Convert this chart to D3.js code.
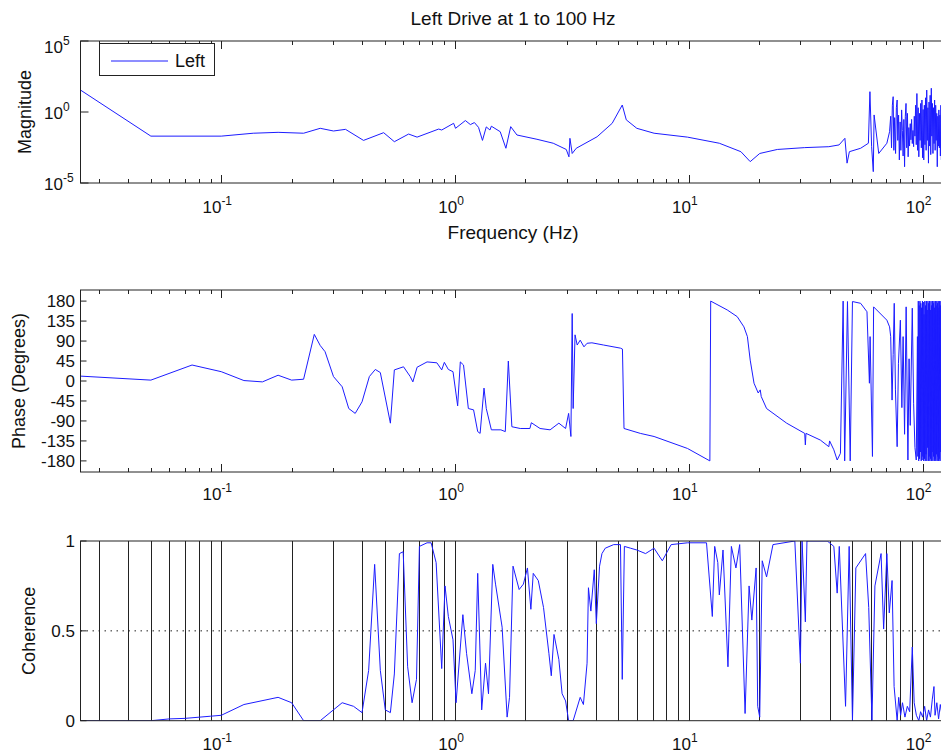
<!DOCTYPE html>
<html>
<head>
<meta charset="utf-8">
<script src="https://cdn.jsdelivr.net/npm/d3@7"></script>
<style>
  body { margin: 0; background: #fff; }
  text { font-family: "Liberation Sans", Arial, Helvetica, sans-serif; fill: #111; }
</style>
</head>
<body>
<svg id="chart"></svg>
<script>
// values
const magFreq = [0.025, 0.05, 0.1, 0.137, 0.175, 0.225, 0.265, 0.302, 0.34, 0.406, 0.495, 0.55, 0.633, 0.688,
  0.851, 0.877, 0.986, 1.005, 1.107, 1.163, 1.21, 1.26, 1.31, 1.36, 1.41, 1.43, 1.56, 1.65, 1.73, 1.84, 2.24,
  2.63, 2.99, 3.07, 3.1, 3.17, 3.3, 4.05, 4.7, 5.19, 5.4, 5.99, 7.1, 9.87, 13.5, 16.7, 18.3, 20.1, 23.9, 31.3,
  39.7, 43.9, 46.5, 47.5, 48.6, 54.3, 58.6, 59.5, 60.5, 61.5, 62.0, 64.9, 70.3, 72.2,
  73.0, 73.6, 74.2, 74.8, 75.3, 75.9, 76.6, 77.2, 77.8, 78.3, 78.9, 79.5, 80.1, 80.7, 81.3, 81.9, 82.5, 83.1,
  83.7, 84.3, 84.9, 85.5, 86.1, 86.7, 87.3, 87.9, 88.5, 89.1, 89.7, 90.3, 90.9, 91.5, 92.1, 92.7, 93.3, 93.9,
  94.5, 95.1, 95.7, 96.3, 96.9, 97.5, 98.1, 98.7, 99.3, 99.9, 100.5, 101.1, 101.7, 102.3, 102.9, 103.5, 104.1,
  104.7, 105.3, 105.9, 106.5, 107.1, 107.7, 108.3, 108.9, 109.5, 110.1, 110.7, 111.3, 111.9, 112.5, 113.1,
  113.7, 114.3, 114.9, 115.5, 116.1, 116.7, 117.3, 117.9, 118.5, 119.1, 119.7, 120.3, 120.9, 121.5, 122.1,
  122.7, 123.3, 123.9, 124.5];
const magVal = [35, 0.020, 0.020, 0.032, 0.037, 0.032, 0.071, 0.046, 0.060, 0.010, 0.035, 0.0081, 0.028, 0.017,
  0.063, 0.054, 0.16, 0.071, 0.25, 0.13, 0.18, 0.083, 0.010, 0.089, 0.054, 0.10, 0.041, 0.0028, 0.093, 0.024, 0.012,
  0.0063, 0.0023, 0.0007, 0.014, 0.0012, 0.0028, 0.018, 0.16, 3.1, 0.28, 0.071, 0.032, 0.017, 0.0063, 0.0016, 0.00032, 0.0012, 0.0023, 0.0031,
  0.0036, 0.0048, 0.014, 0.00025, 0.0016, 0.0028, 0.0063, 27, 0.0036, 0.000063, 0.62, 0.0012, 0.0063, 0.041,
  0.5, 0.003, 3, 12, 0.002, 0.4, 0.0012, 2, 7, 0.01, 0.6, 0.00042, 0.2, 0.002, 1.4, 0.05, 0.0008, 0.3,
  0.00014, 0.5, 4, 0.003, 0.8, 0.0007, 0.08, 0.004, 0.15, 0.011, 0.3, 0.006, 0.05, 0.0036, 0.5, 0.02, 3, 0.005,
  20, 0.002, 2, 0.0007, 0.8, 0.01, 4, 0.003, 7, 0.0006, 1.5, 0.00042, 3, 0.005, 10, 0.002, 35,
  0.01, 2, 0.00025, 5, 0.004, 15, 0.001, 47, 0.02, 4, 0.0012, 2, 0.006, 7, 0.002,
  3, 0.01, 0.8, 0.00014, 0.5, 0.004, 1.4, 0.003, 0.6, 0.0008, 3, 0.00042, 5, 0.002, 2,
  0.001, 4, 0.003, 1];

const phaseFreq = [0.025, 0.05, 0.075, 0.1, 0.125, 0.15, 0.175, 0.2, 0.225, 0.25, 0.265, 0.278, 0.302, 0.329,
  0.351, 0.374, 0.4, 0.43, 0.456, 0.479, 0.529, 0.55, 0.602, 0.643, 0.66, 0.688, 0.759, 0.836, 0.877, 0.9, 0.936,
  0.98, 1.026, 1.053, 1.087, 1.14, 1.2, 1.25, 1.28, 1.33, 1.36, 1.43, 1.57, 1.64, 1.69, 1.75, 1.9, 2.09, 2.12,
  2.31, 2.55, 2.78, 2.97, 3.06, 3.13, 3.17, 3.2, 3.26, 3.33, 3.43, 3.56, 3.67, 3.85, 4.32, 5.1, 5.2, 5.28, 6.2,
  7.1, 9.87, 12.3, 12.4, 14.6, 16.1, 17.2, 17.8, 18.3, 19.0, 19.8, 20.2, 20.4, 21.5, 26.2, 31.3, 31.5, 31.7,
  36.5, 39.7, 40, 41.7, 43.1, 44.5, 45.7, 46.4, 47.7, 49, 50.1, 54.3, 57.8, 59.2, 59.6, 61, 61.7, 70.3, 72.2,
  73, 74, 74.8, 75.6, 76.5, 77.8, 78.8, 80.3, 81.5, 82.5, 83.7, 85, 86.5, 87.5, 88.5, 90.3, 91.5, 92.7, 93.9,
  95, 95.4, 95.8, 96.2, 96.6, 97, 97.4, 97.8, 98.2, 98.6, 99, 99.4, 99.8, 100.2, 100.6, 101, 101.4, 101.8,
  102.2, 102.6, 103, 103.4, 103.8, 104.2, 104.6, 105, 105.4, 105.8, 106.2, 106.6, 107, 107.4, 107.8, 108.2,
  108.6, 109, 109.4, 109.8, 110.2, 110.6, 111, 111.4, 111.8, 112.2, 112.6, 113, 113.4, 113.8, 114.2, 114.6,
  115, 115.4, 115.8, 116.2, 116.6, 117, 117.4, 117.8, 118.2, 118.6, 119, 119.4, 119.8, 120.2, 120.6, 121,
  121.4, 121.8, 122.2, 122.6, 123, 123.4, 123.8, 124.2, 124.6];
const phaseVal = [11, 2, 36, 21, 1, -2, 13, 2, 4, 105, 80, 66, 10, -13,
  -62, -73, -47, 10, 26, 19, -95, 25, 32, 10, -2, 31, 43, 41, 25, 42, 26,
  21, -56, 43, 36, -62, -65, -114, -118, -16, -62, -110, -110, -114, 45, -103, -107, -107, -94,
  -107, -110, -95, -107, -73, -125, 152, -62, 104, 81, 92, 77, 85, 86, 81, 74, 72, -107, -118,
  -125, -152, -180, 180, 160, 145, 122, 100, 47, -5, -27, -20, -35, -62, -95, -118, -144, -118,
  -133, -148, -135, -155, -178, -163, 180, -180, 179, -180, 179, 175, 156, -5, 100, -170, 167, 137, 122,
  100, -43, 60, 175, -20, -148, 40, 137, -60, 100, -120, 167, -178, 50, -100, 164, -50, -150, -178,
  100, -170, 180, -180, 170, -175, 180, -160, 175, -180, 165, -178, 180, -170, 178, -180, 150, -175,
  180, -180, 170, -165, 180, -180, 160, -150, 180, -180, 175, -170, 180, -180, 160, -175,
  180, -180, 170, -160, 180, -180, 175, -170, 180, -180, 165, -175, 180, -180, 170, -165,
  180, -180, 175, -170, 180, -180, 165, -175, 180, -180, 170, -160, 180, -180, 175, -170,
  180, -180, 170, -175, 180, -180, 170, -175, 180];

const cohFreq = [0.025, 0.05, 0.06, 0.07, 0.09, 0.1, 0.125, 0.175, 0.2, 0.225, 0.265, 0.329, 0.368, 0.40, 0.427,
  0.453, 0.479, 0.503, 0.529, 0.55, 0.578, 0.6, 0.627, 0.655, 0.684, 0.704, 0.759, 0.79, 0.83, 0.877, 0.906,
  0.936, 0.98, 1.01, 1.08, 1.12, 1.18, 1.22, 1.25, 1.30, 1.35, 1.39, 1.45, 1.49, 1.59, 1.67, 1.71, 1.77, 1.88,
  1.96, 2.04, 2.11, 2.16, 2.27, 2.39, 2.52, 2.58, 2.65, 2.78, 2.87, 2.97, 3.06, 3.2, 3.43, 3.54, 3.67, 3.72,
  3.81, 3.94, 4.02, 4.15, 4.25, 4.39, 4.77, 5.1, 5.19, 5.3, 5.63, 5.99, 6.53, 7.1, 7.7, 8.4, 9.87, 11.9, 12.6,
  12.9, 13.3, 13.5, 14.0, 14.7, 15.2, 15.9, 16.5, 17.4, 18.1, 18.6, 19.4, 19.7, 20.1, 20.6, 21.5, 22.9, 28.4,
  30, 30.5, 31.5, 32, 39.1, 41.7, 43.1, 44, 46.8, 48.5, 50.1, 51.8, 55, 57, 58.8, 60.7, 62.5, 66.4, 68.1, 70.3,
  72, 74, 75.5, 77.8, 79, 80.5, 82, 84, 86, 88, 90.3, 92, 94, 96.3, 98, 100, 102, 104, 106, 108, 110, 111.8,
  113, 115, 117, 119, 121, 123];
const cohVal = [0, 0, 0.01, 0.013, 0.025, 0.03, 0.09, 0.13, 0.10, 0, 0, 0.10, 0.08, 0.045, 0.28,
  0.87, 0.28, 0.06, 0.045, 0.26, 0.93, 0.94, 0.30, 0.10, 0.23, 0.97, 0.99, 0.99, 0.88, 0.29, 0.75,
  0.58, 0.45, 0.10, 0.59, 0.375, 0.15, 0.28, 0.82, 0.06, 0.32, 0.15, 0.87, 0.76, 0.52, 0.02, 0.13, 0.86, 0.73,
  0.76, 0.85, 0.62, 0.82, 0.78, 0.63, 0.375, 0.25, 0.48, 0.34, 0.15, 0.11, 0, 0, 0.13, 0.09, 0.32, 0.74,
  0.61, 0.84, 0.54, 0.86, 0.93, 0.96, 0.98, 0.98, 0.23, 0.97, 0.96, 0.95, 0.93, 0.96, 0.89, 0.98, 0.99, 0.99, 0.58,
  0.97, 0.88, 0.70, 0.95, 0.30, 0.97, 0.85, 0.98, 0.04, 0.75, 0.56, 0.85, 0.08, 0.02, 0.89, 0.80, 0.98, 1.0,
  0.32, 1.0, 0.55, 1.0, 1.0, 0.97, 0.71, 0.97, 0.08, 0.97, 0, 0.85, 0.9, 0.93, 0.63, 0, 0.75, 0.93, 0.51, 0.93,
  0.6, 0.78, 0.19, 0, 0.13, 0.03, 0.1, 0.02, 0.08, 0.05, 0.41, 0.1, 0.03, 0, 0.05, 0.02, 0.08, 0, 0.06, 0.02, 0.12, 0.19,
  0.03, 0.1, 0.01, 0.09, 0.03, 0.08];

const decadeTicks = [0.1, 1, 10, 100];
const decadeExp = ['-1', '0', '1', '2'];
const magTicks = [1e5, 1, 1e-5];
const magExp = ['5', '0', '-5'];
const phaseTicks = [180, 135, 90, 45, 0, -45, -90, -135, -180];
const cohTicks = [1, 0.5, 0];
const cohLabels = ['1', '0.5', '0'];

const width = 941, height = 755;
const svg = d3.select('#chart').attr('width', width).attr('height', height);

const x = d3.scaleLog().domain([0.025, 125]).range([80.5, 945.3]);
const minorTicks = x.ticks();

const panels = {
  mag: { top: 41, bottom: 183 },
  phase: { top: 290, bottom: 472 },
  coh: { top: 541, bottom: 720.7 }
};

const yMag = d3.scaleLog().domain([1e-5, 1e5]).range([panels.mag.bottom, panels.mag.top]);
const yPhase = d3.scaleLinear().domain([-205, 205]).range([panels.phase.bottom, panels.phase.top]);
const yCoh = d3.scaleLinear().domain([0, 1]).range([panels.coh.bottom, panels.coh.top]);

const axisColor = '#222';
const lineColor = '#1c1cff';

function clipFor(id, p) {
  svg.append('clipPath').attr('id', id)
    .append('rect')
    .attr('x', x.range()[0]).attr('y', p.top)
    .attr('width', x.range()[1] - x.range()[0]).attr('height', p.bottom - p.top);
}

function frame(p) {
  svg.append('rect')
    .attr('x', x.range()[0]).attr('y', p.top)
    .attr('width', x.range()[1] - x.range()[0]).attr('height', p.bottom - p.top)
    .attr('fill', 'none').attr('stroke', axisColor).attr('stroke-width', 1);
}

function xTickMarks(p) {
  const g = svg.append('g').attr('stroke', axisColor).attr('stroke-width', 1);
  minorTicks.forEach(t => {
    const len = decadeTicks.includes(t) ? 8 : 4;
    const xx = Math.round(x(t)) + 0.5;
    g.append('line').attr('x1', xx).attr('x2', xx).attr('y1', p.top).attr('y2', p.top + len);
    g.append('line').attr('x1', xx).attr('x2', xx).attr('y1', p.bottom).attr('y2', p.bottom - len);
  });
}

function xTickLabels(p, offset) {
  decadeTicks.forEach((t, i) => {
    const txt = svg.append('text')
      .attr('x', x(t) - 4).attr('y', p.bottom + offset)
      .attr('text-anchor', 'middle').attr('font-size', 17);
    txt.append('tspan').text('10');
    txt.append('tspan').attr('dy', -8).attr('font-size', 12).text(decadeExp[i]);
  });
}

function drawLine(clipId, freq, vals, y) {
  const pts = d3.zip(freq, vals);
  svg.append('path')
    .datum(pts)
    .attr('clip-path', `url(#${clipId})`)
    .attr('fill', 'none')
    .attr('stroke', lineColor)
    .attr('stroke-width', 1)
    .attr('stroke-linejoin', 'round')
    .attr('d', d3.line().x(d => x(d[0])).y(d => y(d[1])));
}

// title
svg.append('text')
  .attr('x', 513).attr('y', 25)
  .attr('text-anchor', 'middle').attr('font-size', 19)
  .text('Left Drive at 1 to 100 Hz');

// ---- magnitude ----
clipFor('clipMag', panels.mag);
drawLine('clipMag', magFreq, magVal, yMag);
frame(panels.mag);
xTickMarks(panels.mag);
xTickLabels(panels.mag, 30);
magTicks.forEach((t, i) => {
  const yy = yMag(t);
  svg.append('line').attr('x1', x.range()[0]).attr('x2', x.range()[0] + 8)
    .attr('y1', yy).attr('y2', yy).attr('stroke', axisColor);
  const txt = svg.append('text')
    .attr('x', 44).attr('y', Math.max(yy + 7, 53))
    .attr('font-size', 17);
  txt.append('tspan').text('10');
  txt.append('tspan').attr('dy', -8).attr('font-size', 12).text(magExp[i]);
});
svg.append('text')
  .attr('transform', `translate(31,${(panels.mag.top + panels.mag.bottom) / 2}) rotate(-90)`)
  .attr('text-anchor', 'middle').attr('font-size', 18)
  .text('Magnitude');
svg.append('text')
  .attr('x', 513).attr('y', 239)
  .attr('text-anchor', 'middle').attr('font-size', 19)
  .text('Frequency (Hz)');

// legend
const legend = svg.append('g');
legend.append('rect').attr('x', 99.5).attr('y', 43.5).attr('width', 115).attr('height', 32)
  .attr('fill', '#fff').attr('stroke', axisColor);
legend.append('line').attr('x1', 111).attr('x2', 168).attr('y1', 61).attr('y2', 61)
  .attr('stroke', lineColor).attr('stroke-width', 1);
legend.append('text').attr('x', 175).attr('y', 67).attr('font-size', 18).text('Left');

// ---- phase ----
clipFor('clipPhase', panels.phase);
drawLine('clipPhase', phaseFreq, phaseVal, yPhase);
frame(panels.phase);
xTickMarks(panels.phase);
xTickLabels(panels.phase, 28);
phaseTicks.forEach(t => {
  const yy = yPhase(t);
  svg.append('line').attr('x1', x.range()[0]).attr('x2', x.range()[0] + 6)
    .attr('y1', yy).attr('y2', yy).attr('stroke', axisColor);
  svg.append('text')
    .attr('x', 75).attr('y', yy).attr('dy', '0.36em')
    .attr('text-anchor', 'end').attr('font-size', 17)
    .text(t);
});
svg.append('text')
  .attr('transform', `translate(25,${(panels.phase.top + panels.phase.bottom) / 2}) rotate(-90)`)
  .attr('text-anchor', 'middle').attr('font-size', 18)
  .text('Phase (Degrees)');

// ---- coherence ----
clipFor('clipCoh', panels.coh);
const grid = svg.append('g').attr('stroke', axisColor).attr('stroke-width', 1);
minorTicks.forEach(t => {
  const xx = Math.round(x(t)) + 0.5;
  grid.append('line').attr('x1', xx).attr('x2', xx).attr('y1', panels.coh.top).attr('y2', panels.coh.bottom);
});
svg.append('line')
  .attr('x1', x.range()[0]).attr('x2', x.range()[1])
  .attr('y1', yCoh(0.5)).attr('y2', yCoh(0.5))
  .attr('stroke', axisColor).attr('stroke-dasharray', '1.5,4.5');
drawLine('clipCoh', cohFreq, cohVal, yCoh);
frame(panels.coh);
xTickLabels(panels.coh, 29);
cohTicks.forEach((t, i) => {
  const yy = yCoh(t);
  svg.append('line').attr('x1', x.range()[0]).attr('x2', x.range()[0] + 6)
    .attr('y1', yy).attr('y2', yy).attr('stroke', axisColor);
  svg.append('text')
    .attr('x', 75).attr('y', yy).attr('dy', '0.36em')
    .attr('text-anchor', 'end').attr('font-size', 17)
    .text(cohLabels[i]);
});
svg.append('text')
  .attr('transform', `translate(35,${(panels.coh.top + panels.coh.bottom) / 2}) rotate(-90)`)
  .attr('text-anchor', 'middle').attr('font-size', 18)
  .text('Coherence');
</script>
</body>
</html>
